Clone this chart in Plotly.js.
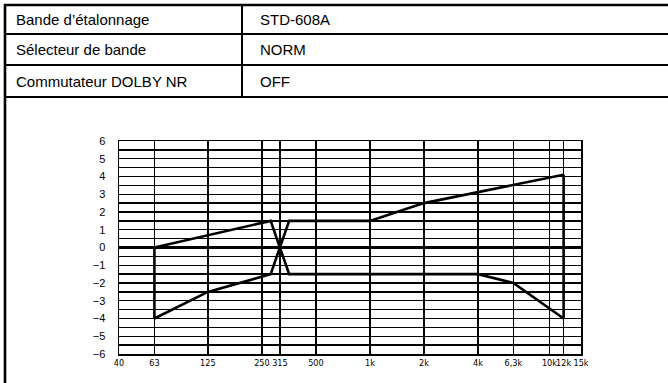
<!DOCTYPE html>
<html>
<head>
<meta charset="utf-8">
<script src="https://cdn.plot.ly/plotly-3.0.1.min.js"></script>
<style>html,body{margin:0;padding:0;background:#fff;}#chart{width:668px;height:383px;}</style>
</head>
<body>
<div id="chart"></div>
<script>
// ---- table content ----
const rowLabels = ["Bande d\u2019étalonnage", "Sélecteur de bande", "Commutateur DOLBY NR"];
const rowValues = ["STD-608A", "NORM", "OFF"];

// ---- tolerance limits (frequency in Hz, level in dB) ----
const upperFreq = [63, 280, 315, 355, 1000, 2000, 12000];
const upperDb   = [0, 1.5, 0, 1.5, 1.5, 2.5, 4.1];
const lowerFreq = [63, 125, 280, 315, 355, 4000, 6300, 12000];
const lowerDb   = [-4, -2.5, -1.5, 0, -1.5, -1.5, -2, -4];

// ---- tick labels ----
const xTickVals = [40, 63, 125, 250, 315, 500, 1000, 2000, 4000, 6300, 10000, 12000, 15000];
const xTickText = ["40", "63", "125", "250", "315", "500", "1k", "2k", "4k", "6,3k", "10k", "12k", "15k"];
const yTickVals = [-6, -5.5, -5, -4.5, -4, -3.5, -3, -2.5, -2, -1.5, -1, -0.5, 0, 0.5, 1, 1.5, 2, 2.5, 3, 3.5, 4, 4.5, 5, 5.5, 6];
const yTickText = ["\u22126", "", "\u22125", "", "\u22124", "", "\u22123", "", "\u22122", "", "\u22121", "", "0", "", "1", "", "2", "", "3", "", "4", "", "5", "", "6"];

// ---- page geometry (pixels) ----
const W = 668, H = 383;
const px = x => x / W;
const py = y => 1 - y / H;

const lineStyle = {color: "#000", width: 2.6};
const traces = [
  {x: upperFreq, y: upperDb, mode: "lines", line: lineStyle, hoverinfo: "skip"},
  {x: lowerFreq, y: lowerDb, mode: "lines", line: lineStyle, hoverinfo: "skip"},
  {x: [lowerFreq[0], upperFreq[0]], y: [lowerDb[0], upperDb[0]], mode: "lines", line: lineStyle, hoverinfo: "skip"},
  {x: [lowerFreq[lowerFreq.length - 1], upperFreq[upperFreq.length - 1]],
   y: [lowerDb[lowerDb.length - 1], upperDb[upperDb.length - 1]], mode: "lines", line: lineStyle, hoverinfo: "skip"}
];

const shapes = [];
function hline(y, x0, x1, w) {
  shapes.push({type: "line", xref: "paper", yref: "paper", x0: px(x0), x1: px(x1), y0: py(y), y1: py(y), line: {color: "#000", width: w}});
}
function vline(x, y0, y1, w) {
  shapes.push({type: "line", xref: "paper", yref: "paper", x0: px(x), x1: px(x), y0: py(y0), y1: py(y1), line: {color: "#000", width: w}});
}
hline(5, 4, 668, 2.6);
hline(34, 4, 668, 2);
hline(65, 4, 668, 2);
hline(97, 4, 668, 2);
vline(5, 4, 383, 2.6);
vline(242, 5, 97, 2);

const rowCenters = [19, 50, 82];
const tableFont = {family: "Liberation Sans, Arial, sans-serif", size: 15, color: "#000"};
const annotations = [];
rowLabels.forEach((t, i) => {
  annotations.push({text: t, xref: "paper", yref: "paper", x: px(14), y: py(rowCenters[i]), xanchor: "left", yanchor: "middle", showarrow: false, font: tableFont});
  annotations.push({text: rowValues[i], xref: "paper", yref: "paper", x: px(258), y: py(rowCenters[i]), xanchor: "left", yanchor: "middle", showarrow: false, font: tableFont});
});

const xTickFont = {family: "DejaVu Sans Condensed, Liberation Sans, Arial, sans-serif", size: 9, color: "#000"};
const yTickFont = {family: "Liberation Sans, Arial, sans-serif", size: 11, color: "#000"};
const layout = {
  width: W, height: H,
  margin: {l: 0, r: 0, t: 0, b: 0, pad: 0},
  paper_bgcolor: "#fff", plot_bgcolor: "#fff",
  showlegend: false,
  xaxis: {
    type: "log", range: [Math.log10(40), Math.log10(15000)],
    domain: [px(119), px(581)],
    tickmode: "array", tickvals: xTickVals, ticktext: xTickText,
    tickangle: 0,
    showgrid: true, gridcolor: "#000", gridwidth: 1.5,
    showline: true, mirror: true, linecolor: "#000", linewidth: 1.5,
    ticks: "", ticklabelstandoff: 0,
    tickfont: xTickFont,
    fixedrange: true
  },
  yaxis: {
    range: [-6, 6],
    domain: [py(354), py(141)],
    tickmode: "array", tickvals: yTickVals, ticktext: yTickText,
    showgrid: true, gridcolor: "#000", gridwidth: 1.3,
    zeroline: true, zerolinecolor: "#000", zerolinewidth: 2.4,
    showline: true, mirror: true, linecolor: "#000", linewidth: 1.5,
    ticks: "", ticklabelstandoff: 10,
    tickfont: yTickFont,
    fixedrange: true
  },
  shapes: shapes,
  annotations: annotations
};

Plotly.newPlot("chart", traces, layout, {staticPlot: true, displayModeBar: false});
</script>
</body>
</html>
